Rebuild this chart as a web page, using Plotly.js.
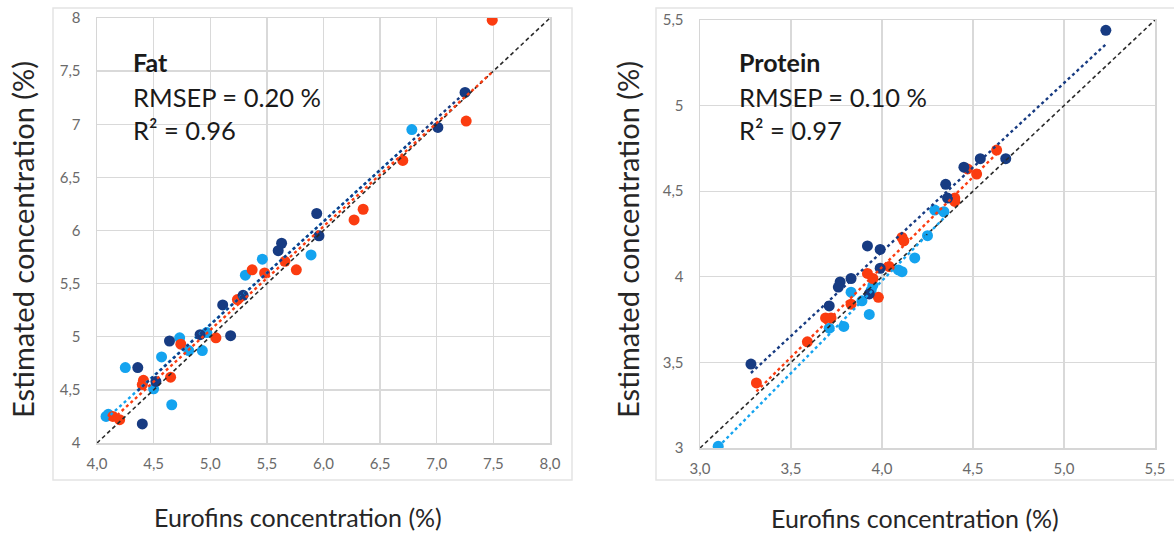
<!DOCTYPE html>
<html>
<head>
<meta charset="utf-8">
<script src="https://cdn.plot.ly/plotly-3.0.1.min.js"></script>
<style>
html,body{margin:0;padding:0;background:#fff;}
#chart{width:1174px;height:535px;}
</style>
</head>
<body>
<div id="chart"></div>
<script>
// ---------- DATA ----------
// Fat panel
const fatNavyX   = [7.25, 7.01, 5.94, 5.96, 5.63, 5.60, 5.29, 5.11, 5.18, 4.91, 4.64, 4.36, 4.52, 4.40];
const fatNavyY   = [7.30, 6.97, 6.16, 5.95, 5.88, 5.81, 5.39, 5.30, 5.01, 5.02, 4.96, 4.71, 4.58, 4.18];
const fatOrangeX = [7.49, 7.26, 6.70, 6.35, 6.27, 5.37, 5.48, 5.66, 5.76, 5.24, 5.05, 4.74, 4.41, 4.40, 4.65, 4.14, 4.20];
const fatOrangeY = [7.98, 7.03, 6.66, 6.20, 6.10, 5.63, 5.60, 5.71, 5.63, 5.35, 4.99, 4.93, 4.59, 4.55, 4.62, 4.25, 4.22];
const fatLightX  = [6.78, 5.89, 5.46, 5.31, 4.97, 4.93, 4.73, 4.81, 4.57, 4.25, 4.50, 4.66, 4.08, 4.10];
const fatLightY  = [6.95, 5.77, 5.73, 5.58, 5.04, 4.87, 4.99, 4.87, 4.81, 4.71, 4.51, 4.36, 4.25, 4.27];
// Protein panel
const protNavyX   = [5.23, 4.68, 4.54, 4.45, 4.35, 4.36, 3.92, 3.99, 3.99, 3.83, 3.77, 3.76, 3.93, 3.71, 3.28];
const protNavyY   = [5.44, 4.69, 4.69, 4.64, 4.54, 4.46, 4.18, 4.16, 4.05, 3.99, 3.97, 3.94, 3.90, 3.83, 3.49];
const protOrangeX = [4.63, 4.52, 4.47, 4.40, 4.40, 4.11, 4.12, 4.04, 3.92, 3.95, 3.98, 3.83, 3.69, 3.72, 3.59, 3.31];
const protOrangeY = [4.74, 4.60, 4.63, 4.46, 4.44, 4.23, 4.21, 4.06, 4.02, 3.99, 3.88, 3.84, 3.76, 3.76, 3.62, 3.38];
const protLightX  = [4.29, 4.34, 4.25, 4.18, 4.09, 4.11, 3.95, 3.94, 3.83, 3.89, 3.93, 3.71, 3.79, 3.10];
const protLightY  = [4.39, 4.38, 4.24, 4.11, 4.04, 4.03, 3.95, 3.92, 3.91, 3.86, 3.78, 3.70, 3.71, 3.01];

// identity (1:1) reference lines
const fatIdentity  = [4, 8];
const protIdentity = [3, 5.5];

// tick values / labels
const fatXTicks  = [4, 4.5, 5, 5.5, 6, 6.5, 7, 7.5, 8];
const fatXLabels = ['4,0','4,5','5,0','5,5','6,0','6,5','7,0','7,5','8,0'];
const fatYLabels = ['4','4,5','5','5,5','6','6,5','7','7,5','8'];
const protXTicks  = [3, 3.5, 4, 4.5, 5, 5.5];
const protXLabels = ['3,0','3,5','4,0','4,5','5,0','5,5'];
const protYLabels = ['3','3,5','4','4,5','5','5,5'];

// panel texts
const fatTitle = 'Fat', fatStats = ['RMSEP = 0.20 %', 'R² = 0.96'];
const protTitle = 'Protein', protStats = ['RMSEP = 0.10 %', 'R² = 0.97'];
const xTitle = 'Eurofins concentration (%)';
const yTitle = 'Estimated concentration (%)';

// ---------- STYLE ----------
const NAVY = '#173b82', ORANGE = '#fb3c10', LIGHT = '#14a3ef';
const W = 1174, H = 535;
const px = v => v / W, py = v => 1 - v / H;
const FONT = 'Lato, "Liberation Sans", Arial, sans-serif';

function fit(xs, ys) {
  const n = xs.length;
  const mx = xs.reduce((a, b) => a + b, 0) / n, my = ys.reduce((a, b) => a + b, 0) / n;
  let sxy = 0, sxx = 0;
  for (let i = 0; i < n; i++) { sxy += (xs[i] - mx) * (ys[i] - my); sxx += (xs[i] - mx) ** 2; }
  const b = sxy / sxx, a = my - b * mx;
  const x0 = Math.min(...xs), x1 = Math.max(...xs);
  return { x: [x0, x1], y: [a + b * x0, a + b * x1] };
}

function pts(xs, ys, color, ax) {
  return { type: 'scatter', mode: 'markers', x: xs, y: ys, xaxis: ax[0], yaxis: ax[1],
    marker: { color: color, size: 11, line: { width: 0 } }, hoverinfo: 'skip' };
}
function trend(xs, ys, color, ax) {
  const f = fit(xs, ys);
  return { type: 'scatter', mode: 'lines', x: f.x, y: f.y, xaxis: ax[0], yaxis: ax[1],
    line: { color: color, width: 2.4, dash: 'dot' }, hoverinfo: 'skip' };
}
function ident(r, ax) {
  return { type: 'scatter', mode: 'lines', x: r, y: r, xaxis: ax[0], yaxis: ax[1],
    line: { color: '#2a2a2a', width: 1.6, dash: '4px,3px' }, hoverinfo: 'skip' };
}

const A1 = ['x', 'y'], A2 = ['x2', 'y2'];
const data = [
  pts(fatLightX, fatLightY, LIGHT, A1), pts(fatOrangeX, fatOrangeY, ORANGE, A1), pts(fatNavyX, fatNavyY, NAVY, A1),
  ident(fatIdentity, A1),
  trend(fatLightX, fatLightY, LIGHT, A1), trend(fatOrangeX, fatOrangeY, ORANGE, A1), trend(fatNavyX, fatNavyY, NAVY, A1),
  pts(protLightX, protLightY, LIGHT, A2), pts(protOrangeX, protOrangeY, ORANGE, A2), pts(protNavyX, protNavyY, NAVY, A2),
  ident(protIdentity, A2),
  trend(protLightX, protLightY, LIGHT, A2), trend(protOrangeX, protOrangeY, ORANGE, A2), trend(protNavyX, protNavyY, NAVY, A2)
];

const axBase = {
  showgrid: true, gridcolor: '#d9d9d9', gridwidth: 1.3,
  showline: true, linecolor: '#d6d6d6', linewidth: 1.5, mirror: true,
  zeroline: false, ticks: '', fixedrange: true,
  tickfont: { family: FONT, size: 15, color: '#6a6a6a' }
};

const layout = {
  width: W, height: H, margin: { l: 0, r: 0, t: 0, b: 0 },
  paper_bgcolor: '#ffffff', plot_bgcolor: '#ffffff', showlegend: false, hovermode: false,
  xaxis: Object.assign({}, axBase, { domain: [px(97), px(550)], range: [4, 8], anchor: 'y',
    tickmode: 'array', tickvals: fatXTicks, ticktext: fatXLabels, ticklabelstandoff: 6 }),
  yaxis: Object.assign({}, axBase, { domain: [py(443), py(18)], range: [4, 8], anchor: 'x',
    tickmode: 'array', tickvals: fatXTicks, ticktext: fatYLabels, ticklabelstandoff: 12 }),
  xaxis2: Object.assign({}, axBase, { domain: [px(700), px(1155)], range: [3, 5.5], anchor: 'y2',
    tickmode: 'array', tickvals: protXTicks, ticktext: protXLabels, ticklabelstandoff: 6 }),
  yaxis2: Object.assign({}, axBase, { domain: [py(448), py(20)], range: [3, 5.5], anchor: 'x2',
    tickmode: 'array', tickvals: protXTicks, ticktext: protYLabels, ticklabelstandoff: 12 }),
  shapes: [
    { type: 'rect', xref: 'paper', yref: 'paper', x0: px(53), x1: px(572), y0: py(480), y1: py(8),
      line: { color: '#e4e4e4', width: 1.5 } },
    { type: 'rect', xref: 'paper', yref: 'paper', x0: px(656), x1: px(1180), y0: py(480), y1: py(8),
      line: { color: '#e4e4e4', width: 1.5 } }
  ],
  annotations: []
};

function txt(x, y, text, size, opts) {
  return Object.assign({ xref: 'paper', yref: 'paper', x: px(x), y: py(y), text: text, showarrow: false,
    xanchor: 'left', yanchor: 'middle', font: { family: FONT, size: size, color: '#1a1a1a' } }, opts || {});
}
layout.annotations.push(
  txt(131, 62, '<b>' + fatTitle + '</b>', 25),
  txt(131, 97, fatStats[0], 25.5),
  txt(131, 130, fatStats[1], 25.5),
  txt(737, 62, '<b>' + protTitle + '</b>', 25),
  txt(737, 97, protStats[0], 25.5),
  txt(737, 130, protStats[1], 25.5),
  txt(298, 517, xTitle, 25, { xanchor: 'center', font: { family: FONT, size: 25, color: '#262626' } }),
  txt(915, 518, xTitle, 25, { xanchor: 'center', font: { family: FONT, size: 25, color: '#262626' } }),
  txt(22, 240, yTitle, 29, { xanchor: 'center', textangle: -90, font: { family: FONT, size: 29, color: '#262626' } }),
  txt(627, 240, yTitle, 29, { xanchor: 'center', textangle: -90, font: { family: FONT, size: 29, color: '#262626' } })
);

Plotly.newPlot('chart', data, layout, { staticPlot: true, displayModeBar: false });
</script>
</body>
</html>
